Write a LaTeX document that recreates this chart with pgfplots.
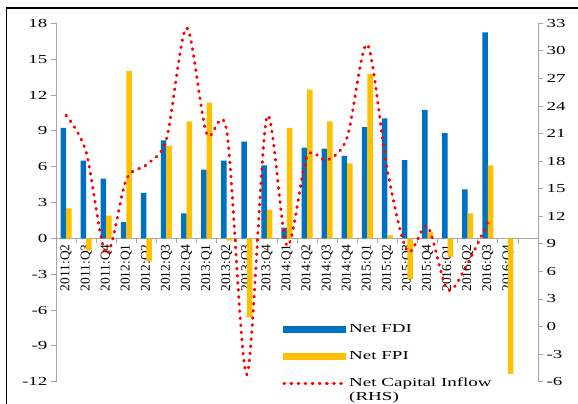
\documentclass[border=0pt]{standalone}
\usepackage{fontspec}
\setmainfont{Liberation Serif}[FakeStretch=1.55]
\newfontfamily\catfont{Liberation Serif}
\usepackage{pgfplots}
\pgfplotsset{compat=1.18}
\definecolor{fdiblue}{HTML}{0070C0}
\definecolor{fpigold}{HTML}{FFC000}
\definecolor{axgray}{HTML}{A6A6A6}
\tikzset{ncistyle/.style={red, line width=2.9bp, dash pattern=on 0.9bp off 6.2bp, line cap=round}}

\begin{document}
\begin{tikzpicture}
\useasboundingbox (0bp,0bp) rectangle (578bp,404bp);
\fill[white] (0bp,0bp) rectangle (578bp,404bp);
\draw[black, line width=1.6bp] (6.5bp,0bp) -- (6.5bp,396bp) -- (578bp,396bp);

% left axis: bars
\begin{axis}[
  at={(56bp,22.3bp)}, anchor=south west,
  scale only axis, width=482bp, height=358.4bp,
  xmin=-0.5, xmax=23.5, ymin=-12, ymax=18,
  ytick={-12,-9,...,18},
  axis y line*=left, axis x line*=middle,
  axis line style={axgray, line width=0.8bp},
  tick align=outside,
  major tick length=5bp, minor tick length=5bp,
  tick style={axgray, line width=0.8bp},
  xtick={0,...,22},
  major x tick style={draw=none},
  minor xtick={-0.5,0.5,...,22.5},
  xticklabels={2011:Q2,2011:Q3,2011:Q4,2012:Q1,2012:Q2,2012:Q3,2012:Q4,
    2013:Q1,2013:Q2,2013:Q3,2013:Q4,2014:Q1,2014:Q2,2014:Q3,2014:Q4,
    2015:Q1,2015:Q2,2015:Q3,2015:Q4,2016:Q1,2016:Q2,2016:Q3,2016:Q4},
  xticklabel style={rotate=90, anchor=east, inner sep=1bp,
    font=\catfont\fontsize{13.5}{14}\selectfont},
  yticklabel style={font=\fontsize{12.3}{14}\selectfont},
  /pgf/number format/assume math mode=true,
  legend style={draw=none, fill=none, at={(0.463,0.17)}, anchor=north west,
    font=\fontsize{12.3}{14}\selectfont, row sep=13.5bp,
    /tikz/every even column/.append style={column sep=7bp}},
  legend cell align=left,
]
\addplot[ybar, bar width=5.5bp, bar shift=-2.75bp, fill=fdiblue, draw=none,
  legend image code/.code={\fill[fdiblue] (0bp,-3.4bp) rectangle (63bp,3.4bp);}]
coordinates {
(0,9.25) (1,6.5) (2,5.0) (3,1.35) (4,3.8) (5,8.2) (6,2.1) (7,5.75)
(8,6.5) (9,8.1) (10,6.1) (11,0.9) (12,7.6) (13,7.5) (14,6.9) (15,9.3)
(16,10.05) (17,6.55) (18,10.75) (19,8.8) (20,4.1) (21,17.25)
};
\addlegendentry{Net FDI\vphantom{Np}}
\addplot[ybar, bar width=5.5bp, bar shift=2.75bp, fill=fpigold, draw=none,
  legend image code/.code={\fill[fpigold] (0bp,-3.4bp) rectangle (63bp,3.4bp);}]
coordinates {
(0,2.5) (1,-1.0) (2,1.9) (3,14.0) (4,-1.9) (5,7.75) (6,9.8) (7,11.35)
(8,-0.2) (9,-6.6) (10,2.4) (11,9.25) (12,12.45) (13,9.8) (14,6.27) (15,13.75)
(16,0.25) (17,-3.4) (18,0.5) (19,-1.55) (20,2.1) (21,6.1) (22,-11.35)
};
\addlegendentry{Net FPI\vphantom{Np}}
\addlegendimage{ncistyle,
  legend image code/.code={\draw[ncistyle] (1bp,0bp) -- (63bp,0bp);}}
\addlegendentry{\smash{\begin{tabular}[t]{@{}l@{}}Net Capital Inflow\\[-0.5pt](RHS)\end{tabular}}\vphantom{Np}}
\end{axis}

% right axis: net capital inflow
\begin{axis}[
  at={(56bp,22.3bp)}, anchor=south west,
  scale only axis, width=482bp, height=358.4bp,
  xmin=-0.5, xmax=23.5, ymin=-6, ymax=33,
  ytick={-6,-3,...,33},
  axis y line*=right, axis x line=none,
  axis line style={axgray, line width=0.8bp},
  tick align=outside, major tick length=5bp,
  tick style={axgray, line width=0.8bp},
  yticklabel style={font=\fontsize{12.3}{14}\selectfont},
  /pgf/number format/assume math mode=true,
]
\addplot[ncistyle, smooth, tension=0.5] coordinates {
(0,23.0) (1,19.0) (2,7.9) (3,16.0) (4,17.6) (5,20.4) (6,32.5) (7,21.0)
(8,21.3) (9,-5.2) (10,22.8) (11,8.8) (12,18.5) (13,18.1) (14,20.6) (15,30.7)
(16,17.0) (17,8.2) (18,10.9) (19,4.0) (20,6.9) (21,11.35)
};
\end{axis}
\end{tikzpicture}
\end{document}
